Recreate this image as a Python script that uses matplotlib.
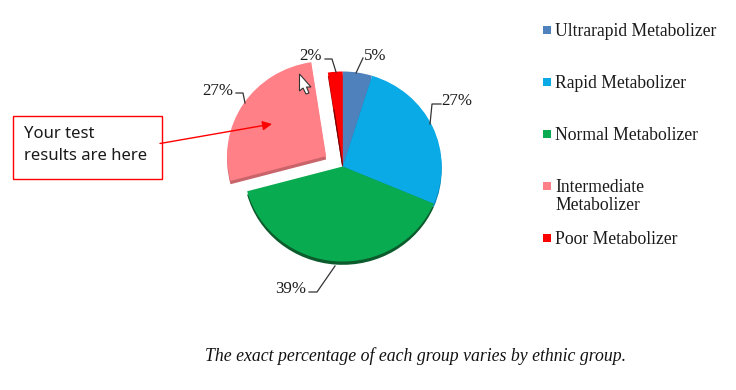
import matplotlib
matplotlib.use("Agg")
import matplotlib.pyplot as plt
from matplotlib.patches import Rectangle, Polygon

# Data (slice sizes estimated, labels show them rounded)
groups = ["Ultrarapid Metabolizer", "Rapid Metabolizer", "Normal Metabolizer",
          "Intermediate\nMetabolizer", "Poor Metabolizer"]
percent = [4.8, 26.6, 39.4, 26.8, 2.4]
colors = ["#4F81BD", "#0AAAE6", "#09AB50", "#FF8086", "#FF0000"]
side_colors = ["#3C6494", "#0886B5", "#0B5B2C", "#C8646A", "#8E0000"]
explode = [0, 0, 0, 0.2, 0]

caption = "The exact percentage of each group varies by ethnic group."
box_lines = ["Your test", "results are here"]

W, H = 736, 390
cx, cy = 342.7, 166.5
rx, ry = 99, 95

fig = plt.figure(figsize=(W / 100, H / 100), dpi=100)

# pie axes, one unit = the pie radius
pie_ax = fig.add_axes([0, 0, 1, 1])
pie_ax.pie(percent, colors=side_colors, startangle=90, counterclock=False,
           explode=explode, center=(0, -0.035), wedgeprops={"linewidth": 0})
pie_ax.pie(percent, colors=colors, startangle=90, counterclock=False,
           explode=explode, wedgeprops={"linewidth": 0})
pie_ax.set_aspect("auto")
pie_ax.set_xlim(-cx / rx, (W - cx) / rx)
pie_ax.set_ylim(-(H - cy) / ry, cy / ry)
pie_ax.axis("off")

# overlay in pixels, y pointing down
ax = fig.add_axes([0, 0, 1, 1])
ax.set_xlim(0, W)
ax.set_ylim(H, 0)
ax.axis("off")
ax.patch.set_alpha(0)

serif = "Liberation Serif"

# data labels with their leader lines
label_xy = [(375.5, 56), (457, 101), (291, 289), (218, 91), (311, 56)]
leaders = [
    [(356, 73), (363, 58)],
    [(430, 124), (432, 104), (441, 104)],
    [(335, 266), (317, 292), (309, 292)],
    [(245, 103), (243, 93), (236, 93)],
    [(336, 72), (332, 59), (325, 59)],
]
for val, xy, line in zip(percent, label_xy, leaders):
    ax.text(xy[0], xy[1], f"{val:.0f}%", ha="center", va="center", family=serif,
            fontsize=12.2, color="#1a1a1a")
    ax.plot([p[0] for p in line], [p[1] for p in line], color="#333333", lw=0.9)

# dark edge on the left of the small slice
ax.plot([334, 342.5], [110, 165], color="#7a0000", lw=0.8)

# legend
legend_y = [30, 82, 134, 186, 238]
for name, col, y in zip(groups, colors, legend_y):
    ax.add_patch(Rectangle((543, y - 4), 8, 8, facecolor=col, edgecolor="none"))
    for i, part in enumerate(name.split("\n")):
        ax.text(555, y + 1 + i * 18.5, part, va="center", family=serif,
                fontsize=12.7, color="#1a1a1a")

# call-out box and arrow
ax.add_patch(Rectangle((12.5, 115.5), 149.5, 63, facecolor="white",
                       edgecolor="#FF0000", lw=1))
ax.text(24, 133.5, box_lines[0], va="center", family="Noto Sans",
        fontsize=12, color="#1a1a1a")
ax.text(24, 155.5, box_lines[1], va="center", family="Noto Sans",
        fontsize=12, color="#1a1a1a")
ax.annotate("", xy=(272, 124), xytext=(160, 143.5),
            arrowprops={"arrowstyle": "-|>", "color": "#FF0000", "lw": 1,
                        "mutation_scale": 14, "shrinkA": 0, "shrinkB": 0})

# mouse cursor
cursor = [(299.5, 74), (299.5, 91), (303, 88), (306, 94), (309, 93),
          (306.5, 87), (311, 87)]
ax.add_patch(Polygon(cursor, closed=True, facecolor="white", edgecolor="#333333", lw=0.8))

ax.text(416, 356, caption, ha="center", va="center", family=serif, style="italic",
        fontsize=12.75, color="#111111")

fig.savefig("out.png", dpi=100)
